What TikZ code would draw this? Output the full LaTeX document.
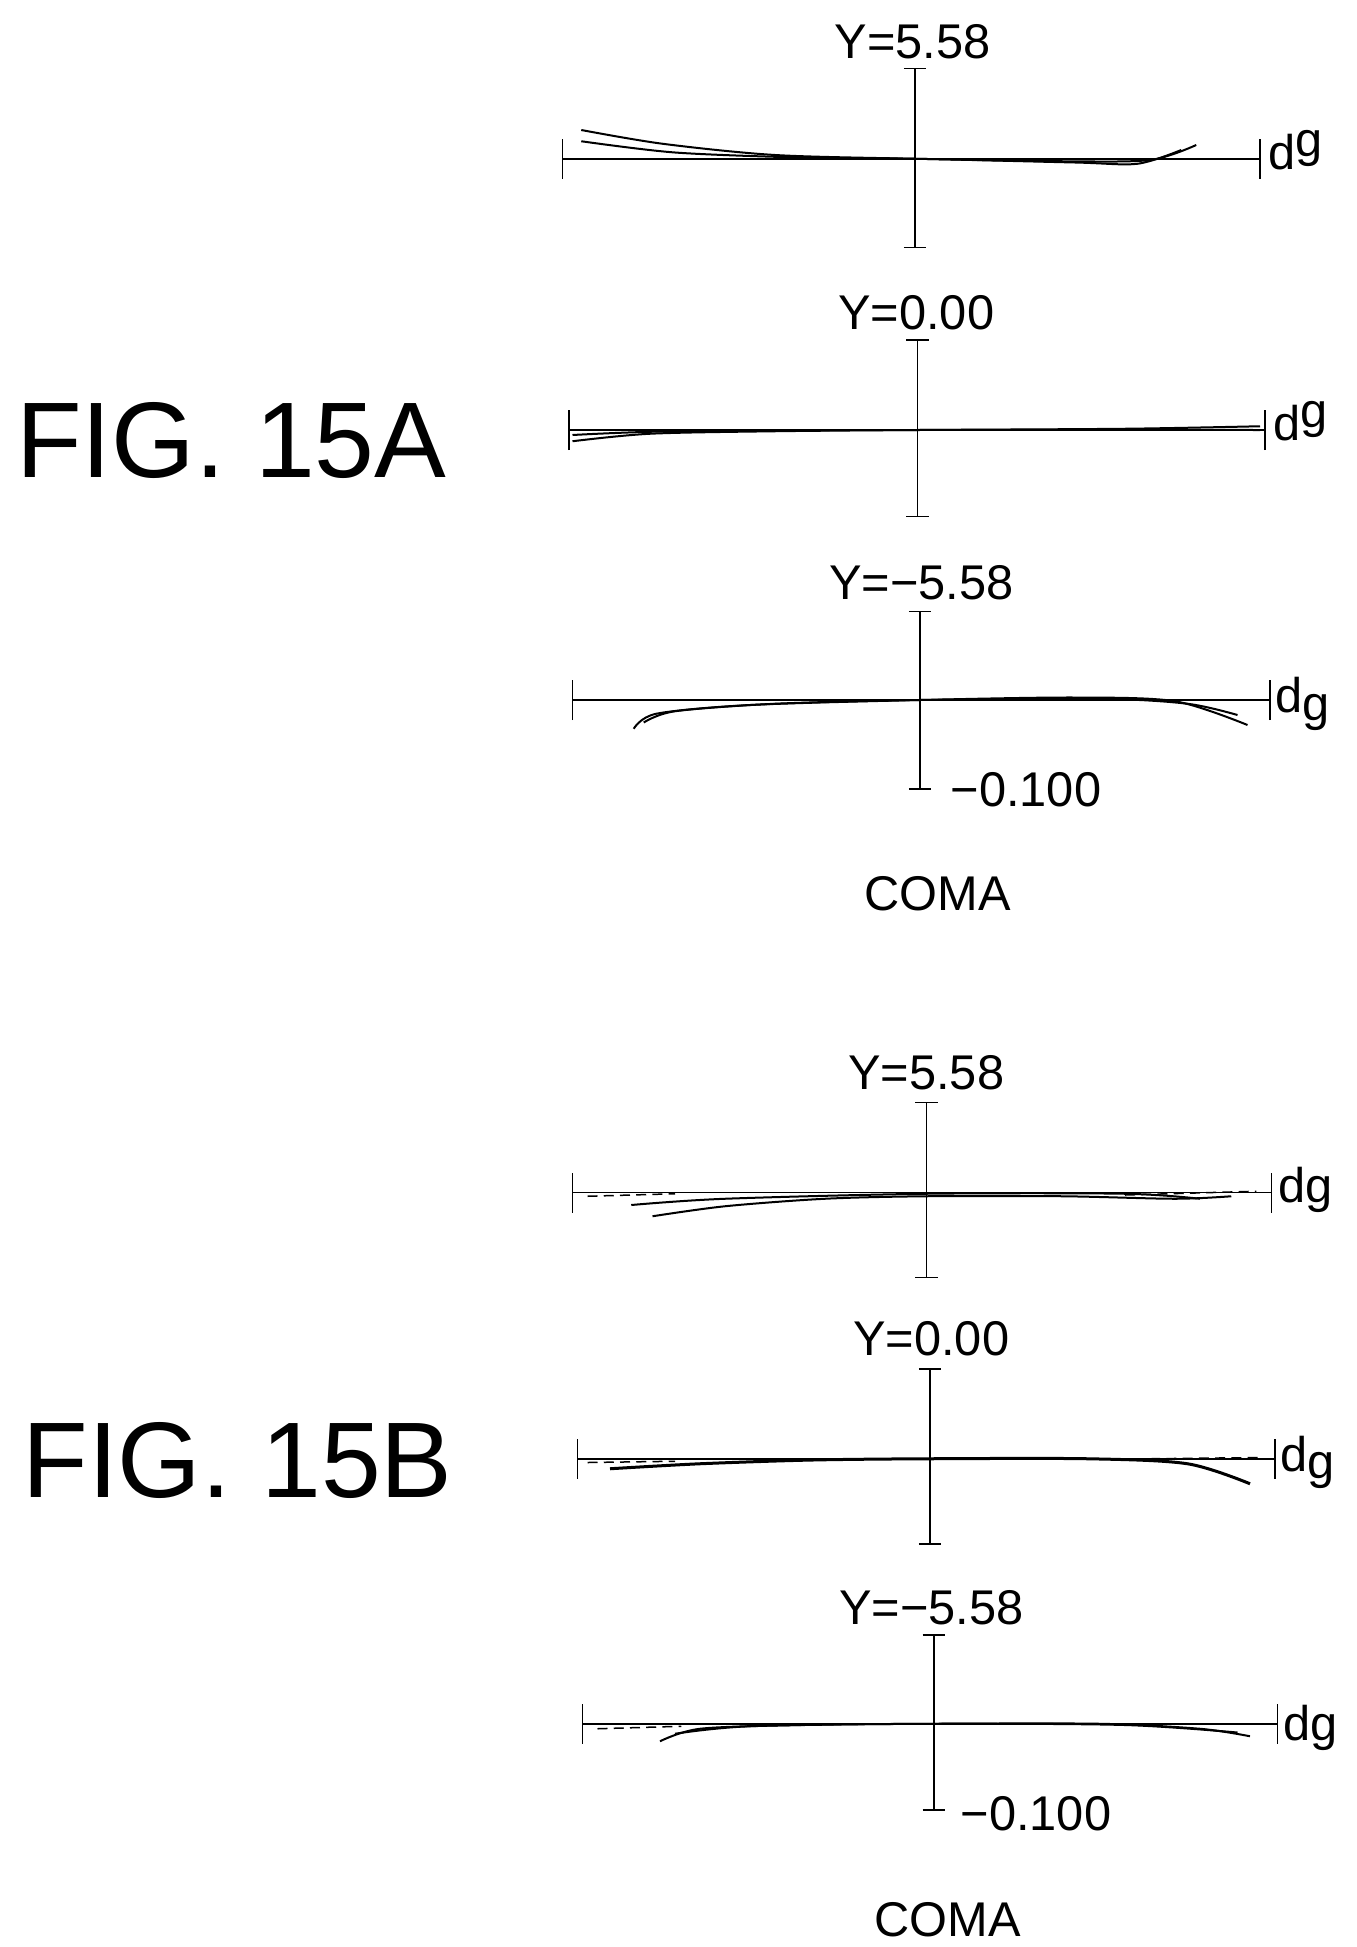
\documentclass[tikz,border=0pt]{standalone}
\usepackage{fontspec}
\setmainfont{Liberation Sans}
\begin{document}
\begin{tikzpicture}[x=1pt,y=-1pt,line width=1.2pt,
  lab/.style={font=\fontsize{39}{39}\selectfont,inner sep=0pt},
  big/.style={font=\fontsize{86}{86}\selectfont,inner sep=0pt},
  crv/.style={line width=1.6pt},
  dsh/.style={line width=1.2pt,dashed,dash pattern=on 8pt off 5pt}]
\useasboundingbox (0,0) rectangle (1085,1557.6);
\newcommand{\mypanel}[7]{%
  \coordinate (L#7) at (#2,#1); \coordinate (R#7) at (#3,#1);
  \coordinate (T#7) at (#4,#5); \coordinate (B#7) at (#4,#6);
  \draw (L#7) -- (R#7);
  \draw ([yshift=-16]L#7) -- ([yshift=16]L#7);
  \draw ([yshift=-16]R#7) -- ([yshift=16]R#7);
  \draw (T#7) -- (B#7);
  \draw ([xshift=-9]T#7) -- ([xshift=9]T#7);
  \draw ([xshift=-9]B#7) -- ([xshift=9]B#7);
}
\mypanel{127}{450}{1008}{732}{55}{198}{a}
\mypanel{344}{455}{1012}{734}{272}{413}{b}
\mypanel{560}{458}{1016}{736}{489}{631}{c}
\mypanel{954}{458}{1017}{741}{882}{1022}{d}
\mypanel{1167}{462}{1020}{744}{1095}{1235}{e}
\mypanel{1379}{466}{1022}{747}{1308}{1448}{f}
\node[lab] (ya) at (730,33) {Y=5.58};
\node[lab] (yb) at (733,250) {Y=0.00};
\node[lab] (yc) at (737,466) {Y=−5.58};
\node[lab] (yd) at (741,858) {Y=5.58};
\node[lab] (ye) at (745,1071) {Y=0.00};
\node[lab] (yf) at (745,1286) {Y=−5.58};
\node[lab,anchor=west] (da) at (1014,120) {d\raisebox{10pt}{g}};
\node[lab,anchor=west] (db) at (1018,337) {d\raisebox{10pt}{g}};
\node[lab,anchor=west] (dc) at (1020,563) {d\raisebox{-6pt}{g}};
\node[lab,anchor=west] (dd) at (1022,952) {dg};
\node[lab,anchor=west] (de) at (1024,1170) {d\raisebox{-6pt}{g}};
\node[lab,anchor=west] (df) at (1026,1382) {dg};
\node[lab,anchor=west] (sa) at (760,632) {−0.100};
\node[lab,anchor=west] (sb) at (768,1451) {−0.100};
\node[lab] (ca) at (750,715) {COMA};
\node[lab] (cb) at (758,1536) {COMA};
\node[big] (fa) at (185,352) {FIG. 15A};
\node[big] (fb) at (190,1168) {FIG. 15B};
% curves 15A
\draw[crv] plot[smooth] coordinates {(465,104) (530,115) (620,124) (732,127) (850,129) (920,128) (957,116)};
\draw[crv] plot[smooth] coordinates {(465,113) (540,122) (640,126) (732,127) (860,130) (910,131) (945,120)};
\draw[crv] plot[smooth] coordinates {(458,353) (520,347) (620,345) (734,344) (900,343) (1008,341)};
\draw[crv] plot[smooth] coordinates {(458,348) (540,345) (734,344) (1008,344)};
\draw[crv] plot[smooth] coordinates {(507,583) (525,571) (600,564) (736,560) (860,558) (940,561) (998,580)};
\draw[crv] plot[smooth] coordinates {(515,578) (540,569) (620,563) (736,560) (880,559) (950,563) (990,572)};
% curves 15B
\draw[crv] plot[smooth] coordinates {(522,973) (580,965) (660,959) (741,957) (850,957) (940,959) (985,957)};
\draw[crv] plot[smooth] coordinates {(505,964) (580,959) (741,955) (900,955) (960,959)};
\draw[dsh] (470,957) -- (540,955);
\draw[dsh] (900,956) -- (1005,953);
\draw[crv,line width=2.4pt] plot[smooth] coordinates {(488,1175) (560,1171) (650,1168) (744,1167) (870,1167) (950,1171) (1000,1187)};
\draw[dsh] (470,1170) -- (540,1169);
\draw[dsh] (920,1167) -- (1010,1166);
\draw[crv] plot[smooth] coordinates {(528,1393) (560,1383) (640,1380) (747,1379) (880,1379) (960,1383) (1000,1389)};
\draw[crv] plot[smooth] coordinates {(540,1387) (600,1381) (747,1379) (900,1380) (990,1386)};
\draw[dsh] (478,1383) -- (545,1381);
\end{tikzpicture}
\end{document}
